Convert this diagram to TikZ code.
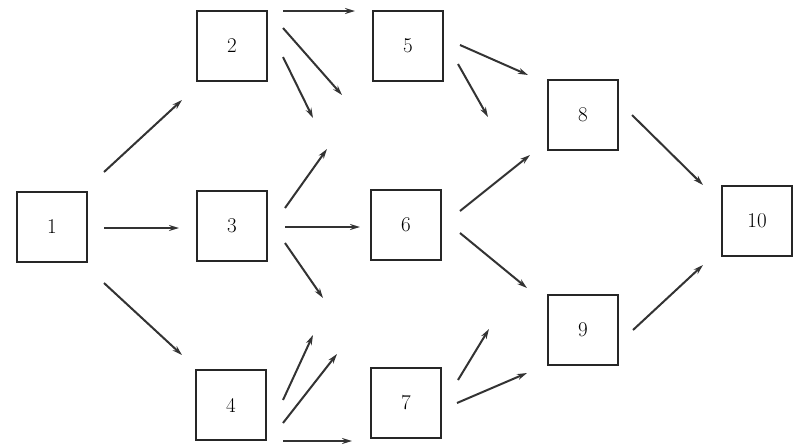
\documentclass[tikz,border=0pt]{standalone}
\usetikzlibrary{arrows.meta}
\begin{document}
\begin{tikzpicture}[x=1pt,y=-1pt,
  box/.style={draw=black!85, line width=2.3pt, minimum width=70pt, minimum height=70pt, inner sep=0pt, font=\fontsize{21}{23}\selectfont},
  arr/.style={draw=black!80, line width=2pt, -{Stealth[length=10pt,width=6pt]}}]
\useasboundingbox (0,0) rectangle (804,445);
\node[box] (n1) at (52,227) {1};
\node[box] (n2) at (232,46) {2};
\node[box] (n3) at (232,226) {3};
\node[box] (n4) at (231,405) {4};
\node[box] (n5) at (408,46) {5};
\node[box] (n6) at (406,225) {6};
\node[box] (n7) at (406,403) {7};
\node[box] (n8) at (583,115) {8};
\node[box] (n9) at (583,330) {9};
\node[box] (n10) at (757,221) {10};
% free ends
\coordinate (s1a) at (104,172); \coordinate (e1a) at (182,100);
\coordinate (s1b) at (104,228); \coordinate (e1b) at (179,228);
\coordinate (s1c) at (104,283); \coordinate (e1c) at (182,355);
\coordinate (s2a) at (283,11); \coordinate (e2a) at (355,11);
\coordinate (s2b) at (283,28); \coordinate (e2b) at (342,95);
\coordinate (s2c) at (283,57); \coordinate (e2c) at (313,118);
\coordinate (s3a) at (285,208); \coordinate (e3a) at (327,149);
\coordinate (s3b) at (285,227); \coordinate (e3b) at (360,227);
\coordinate (s3c) at (285,243); \coordinate (e3c) at (323,298);
\coordinate (s4a) at (283,400); \coordinate (e4a) at (313,335);
\coordinate (s4b) at (283,423); \coordinate (e4b) at (337,354);
\coordinate (s4c) at (283,441); \coordinate (e4c) at (352,441);
\coordinate (s5a) at (460,45); \coordinate (e5a) at (528,75);
\coordinate (s5b) at (458,64); \coordinate (e5b) at (488,117);
\coordinate (s6a) at (460,211); \coordinate (e6a) at (530,155);
\coordinate (s6b) at (460,233); \coordinate (e6b) at (527,288);
\coordinate (s7a) at (458,380); \coordinate (e7a) at (489,329);
\coordinate (s7b) at (457,403); \coordinate (e7b) at (527,373);
\coordinate (s8) at (632,115); \coordinate (e8) at (703,185);
\coordinate (s9) at (633,330); \coordinate (e9) at (703,265);
\foreach \a in {1a,1b,1c,2a,2b,2c,3a,3b,3c,4a,4b,4c,5a,5b,6a,6b,7a,7b,8,9}
  \draw[arr] (s\a) -- (e\a);
\end{tikzpicture}
\end{document}
